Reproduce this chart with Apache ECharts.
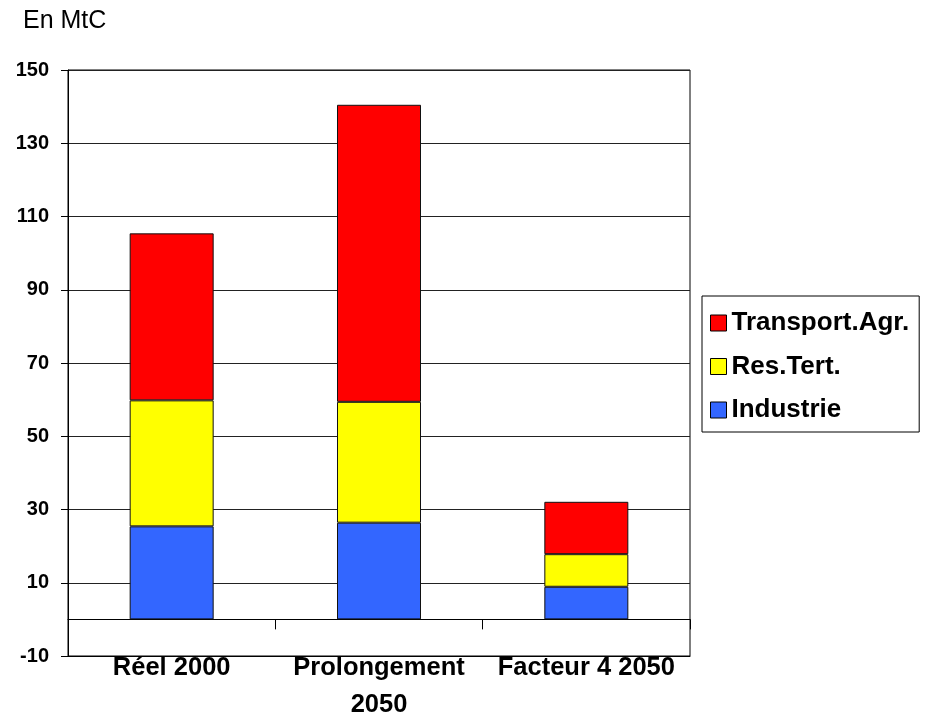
<!DOCTYPE html>
<html>
<head>
<meta charset="utf-8">
<script src="https://cdn.jsdelivr.net/npm/echarts@6/dist/echarts.min.js"></script>
<style>
html,body{margin:0;padding:0;background:#fff;}
#chart{width:927px;height:718px;}
</style>
</head>
<body>
<div id="chart"></div>
<script>
const categories = ['Réel 2000', 'Prolongement\n2050', 'Facteur 4 2050'];
const industrie = [25.4, 26.4, 8.9];
const resTert = [34.4, 33.0, 8.9];
const transportAgr = [45.6, 81.1, 14.3];
const yTicks = { min: -10, max: 150, interval: 20 };
const unitLabel = 'En MtC';

const FONT = '"Liberation Sans", Arial, sans-serif';
const chart = echarts.init(document.getElementById('chart'), null, { renderer: 'canvas' });

const barStyle = (color) => ({ color: color, borderColor: '#111', borderWidth: 1 });

chart.setOption({
  backgroundColor: '#ffffff',
  animation: false,
  title: {
    text: unitLabel,
    left: 18, top: 4,
    textStyle: { fontFamily: FONT, fontSize: 25, fontWeight: 'normal', color: '#000' }
  },
  legend: {
    orient: 'vertical',
    left: 702, top: 296,
    data: ['Transport.Agr.', 'Res.Tert.', 'Industrie'],
    icon: 'rect',
    itemWidth: 16, itemHeight: 16,
    itemGap: 17.5,
    itemTextGap: 8,
    padding: [14, 10, 9, 8],
    borderColor: '#000', borderWidth: 1,
    selectedMode: false,
    itemStyle: { borderColor: '#000', borderWidth: 1 },
    textStyle: { fontFamily: FONT, fontSize: 26, fontWeight: 'bold', color: '#000' }
  },
  grid: {
    left: 68, right: 237, top: 70, bottom: 62,
    outerBoundsMode: 'none', containLabel: false,
    show: true, borderColor: '#000', borderWidth: 1, backgroundColor: '#fff'
  },
  xAxis: [
    {
      type: 'category', data: categories,
      axisLine: { onZero: true, lineStyle: { color: '#000', width: 1 } },
      axisTick: { show: true, length: 10, lineStyle: { color: '#000' } },
      axisLabel: { show: false },
      splitLine: { show: false }
    },
    {
      type: 'category', data: categories, position: 'bottom',
      axisLine: { onZero: false, show: true, lineStyle: { color: '#000', width: 1 } },
      axisTick: { show: false },
      axisLabel: {
        interval: 0, margin: -7,
        fontFamily: FONT, fontSize: 25.5, fontWeight: 'bold', color: '#000', lineHeight: 37
      },
      splitLine: { show: false }
    }
  ],
  yAxis: {
    type: 'value', min: yTicks.min, max: yTicks.max, interval: yTicks.interval,
    axisLine: { show: true, lineStyle: { color: '#000', width: 1 } },
    axisTick: { show: true, length: 7, lineStyle: { color: '#000' } },
    axisLabel: { margin: 19, fontFamily: FONT, fontSize: 20, fontWeight: 'bold', color: '#000' },
    splitLine: { show: true, lineStyle: { color: '#222', width: 1 } }
  },
  series: [
    { name: 'Industrie', type: 'bar', stack: 'tot', data: industrie, barWidth: 84, itemStyle: barStyle('#3366FF') },
    { name: 'Res.Tert.', type: 'bar', stack: 'tot', data: resTert, barWidth: 84, itemStyle: barStyle('#FFFF00') },
    { name: 'Transport.Agr.', type: 'bar', stack: 'tot', data: transportAgr, barWidth: 84, itemStyle: barStyle('#FF0000') }
  ]
});
</script>
</body>
</html>
